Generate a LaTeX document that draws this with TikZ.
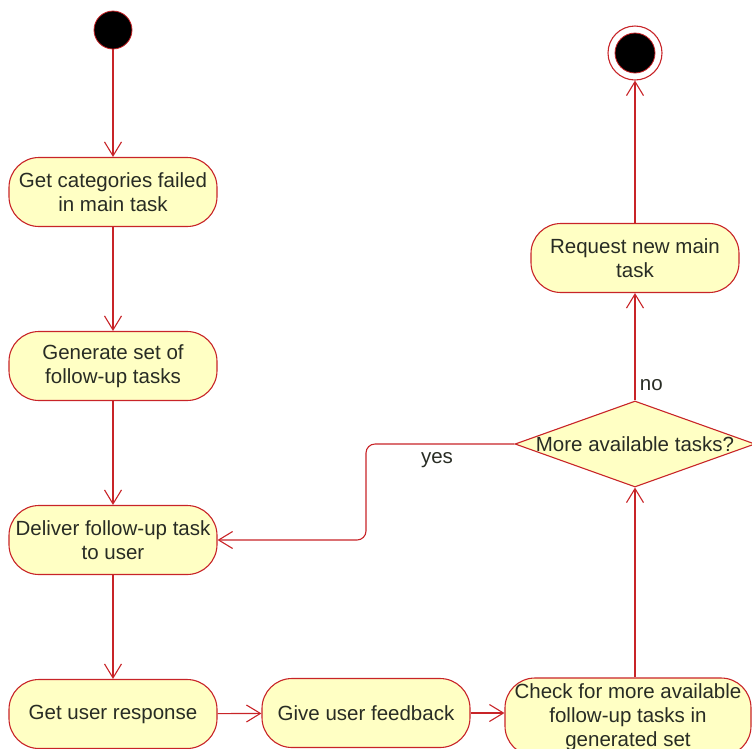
\documentclass[tikz,border=0pt]{standalone}
\usepackage{fontspec}
\setmainfont{Liberation Sans}
\usetikzlibrary{arrows.meta,shapes.geometric}
\definecolor{umlred}{RGB}{200,36,40}
\definecolor{umlfill}{RGB}{255,255,196}
\definecolor{umltext}{RGB}{40,44,36}
\begin{document}
\begin{tikzpicture}[x=1pt,y=-1pt,
  every node/.style={font=\fontsize{20.5}{24}\selectfont, text=umltext},
  action/.style={draw=umlred, fill=umlfill, line width=1.1pt, rounded corners=30pt,
    minimum width=208pt, minimum height=69pt, align=center, inner sep=0pt},
  flow/.style={draw=umlred, line width=1.1pt, -{Straight Barb[length=14pt,width=17pt]}},
  lbl/.style={font=\fontsize{20.5}{24}\selectfont}
]
\useasboundingbox (0,0) rectangle (752,748);

% initial and final states
\node[circle, draw=umlred, fill=black, line width=0.8pt, minimum size=38pt, inner sep=0pt] (start) at (113,30) {};
\node[circle, draw=umlred, fill=white, line width=1.1pt, minimum size=54pt, inner sep=0pt] (finish) at (635,53) {};
\node[circle, draw=umlred, fill=black, line width=0.8pt, minimum size=40pt, inner sep=0pt] (finishdot) at (635,53) {};

% actions
\node[action] (cats) at (113,192) {Get categories failed\\in main task};
\node[action] (gen) at (113,366) {Generate set of\\follow-up tasks};
\node[action] (deliver) at (113,540) {Deliver follow-up task\\to user};
\node[action] (resp) at (113,714) {Get user response};
\node[action] (fb) at (366,713) {Give user feedback};
\node[action, minimum width=246pt, minimum height=78pt] (check) at (628,717) {Check for more available\\follow-up tasks in\\generated set};
\node[action] (req) at (635,258) {Request new main\\task};

% decision
\node[diamond, draw=umlred, fill=umlfill, line width=1.1pt, minimum width=240pt, minimum height=86pt, inner sep=0pt] (more) at (635,444) {};
\node (moretxt) at (more.center) {More available tasks?};

% transitions
\draw[flow] (start) -- (cats);
\draw[flow] (cats) -- (gen);
\draw[flow] (gen) -- (deliver);
\draw[flow] (deliver) -- (resp);
\draw[flow] (resp) -- (fb);
\draw[flow] (fb) -- (check.west |- fb.east);
\draw[flow] (check.north -| more.south) -- (more.south);
\draw[flow] (more.north) -- node[lbl, right, pos=0.14, xshift=1pt] {no} (req.south);
\draw[flow] (req.north) -- (finish.south);
\coordinate (bendx) at (366,444);
\draw[flow, rounded corners=9pt] (more.west) -- (bendx) -- (bendx |- deliver.east) -- (deliver.east);
\node[lbl] (yes) at (437,460) {yes};
\end{tikzpicture}
\end{document}
